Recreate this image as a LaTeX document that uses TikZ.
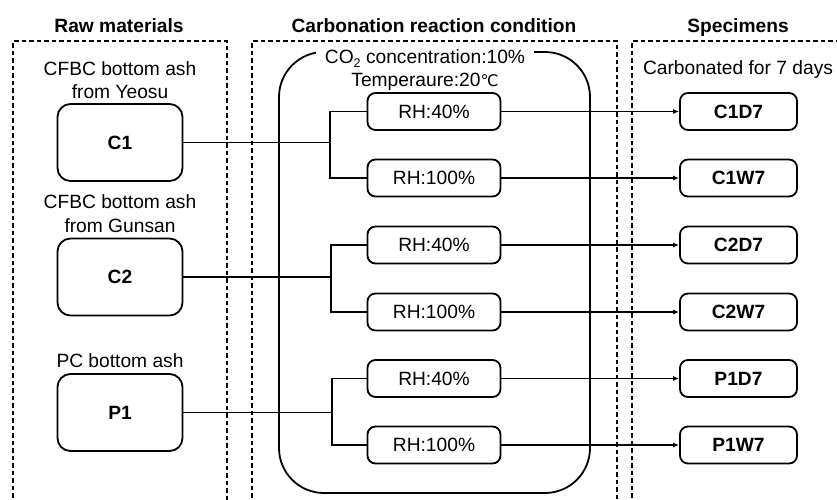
\documentclass[tikz,border=0pt]{standalone}
\usepackage{fontspec}
\setmainfont{Liberation Sans}
\newfontfamily\symfont{DejaVu Sans}
\usetikzlibrary{arrows.meta}
\begin{document}
\begin{tikzpicture}[x=1pt,y=-1pt,
  txt/.style={font=\fontsize{19.2}{22}\selectfont, inner sep=0pt, anchor=base},
  ttl/.style={font=\fontsize{19.2}{22}\selectfont\bfseries, inner sep=0pt, anchor=base},
  dbox/.style={draw, line width=1.5pt, dash pattern=on 4.5pt off 3pt},
  rawbox/.style={draw, line width=1.8pt, rounded corners=13pt, minimum width=125pt, minimum height=77pt, font=\fontsize{19.2}{22}\selectfont\bfseries},
  rhbox/.style={draw, line width=1.8pt, rounded corners=8pt, minimum width=133pt, minimum height=37pt, font=\fontsize{19.2}{22}\selectfont},
  spbox/.style={draw, line width=1.8pt, rounded corners=8pt, minimum width=117pt, minimum height=37pt, font=\fontsize{19.2}{22}\selectfont\bfseries},
  conn/.style={line width=1.4pt},
  arr/.style={line width=1.4pt, -{Latex[length=6pt,width=5pt]}}
]
\useasboundingbox (0,0) rectangle (837,499);
\clip (0,0) rectangle (837,499);
% titles
\node[ttl] (t1) at (119,32) {Raw materials};
\node[ttl] (t2) at (434,32) {Carbonation reaction condition};
\node[ttl] (t3) at (738,32) {Specimens};
% dashed boxes
\draw[dbox] (13,520) -- (13,41) -- (227,41) -- (227,520);
\draw[dbox] (252,520) -- (252,41) -- (617,41) -- (617,520);
\draw[dbox] (632,520) -- (632,41) -- (860,41);
% big rounded box
\draw[line width=1.8pt, rounded corners=45pt] (279,52) rectangle (590,493);
\node[txt, fill=white, inner xsep=9pt, inner ysep=4pt] (co2) at (425,63) {CO{\fontsize{12.5}{12}\selectfont\raisebox{-4pt}{2}} concentration:10\%};
\node[txt] (temp) at (425,86) {Temperaure:20{\symfont\fontsize{16}{18}\selectfont ℃}};
% raw material labels
\node[txt] (l1a) at (120,75) {CFBC bottom ash};
\node[txt] (l1b) at (120,98) {from Yeosu};
\node[txt] (l2a) at (120,208) {CFBC bottom ash};
\node[txt] (l2b) at (120,232) {from Gunsan};
\node[txt] (l3a) at (120,367) {PC bottom ash};
\node[txt] (l4) at (738,74) {Carbonated for 7 days};
% raw boxes
\node[rawbox] (C1) at (120,142.5) {C1};
\node[rawbox] (C2) at (120,277) {C2};
\node[rawbox] (P1) at (120,412.5) {P1};
% RH boxes
\node[rhbox] (R1) at (434,111.5) {RH:40\%};
\node[rhbox] (R2) at (434,178) {RH:100\%};
\node[rhbox] (R3) at (434,245) {RH:40\%};
\node[rhbox] (R4) at (434,312) {RH:100\%};
\node[rhbox] (R5) at (434,378.5) {RH:40\%};
\node[rhbox] (R6) at (434,445) {RH:100\%};
% specimen boxes
\node[spbox] (S1) at (738.5,111.5) {C1D7};
\node[spbox] (S2) at (738.5,178) {C1W7};
\node[spbox] (S3) at (738.5,245) {C2D7};
\node[spbox] (S4) at (738.5,312) {C2W7};
\node[spbox] (S5) at (738.5,378.5) {P1D7};
\node[spbox] (S6) at (738.5,445) {P1W7};
% branch points
\coordinate (b1) at (330,142.5);
\coordinate (b2) at (331,277);
\coordinate (b3) at (332,412.5);
\draw[conn] (C1.east) -- (b1);
\draw[conn] (b1) |- (R1.west);
\draw[conn] (b1) |- (R2.west);
\draw[conn] (C2.east) -- (b2);
\draw[conn] (b2) |- (R3.west);
\draw[conn] (b2) |- (R4.west);
\draw[conn] (P1.east) -- (b3);
\draw[conn] (b3) |- (R5.west);
\draw[conn] (b3) |- (R6.west);
% arrows
\draw[arr] (R1.east) -- (S1.west);
\draw[arr] (R2.east) -- (S2.west);
\draw[arr] (R3.east) -- (S3.west);
\draw[arr] (R4.east) -- (S4.west);
\draw[arr] (R5.east) -- (S5.west);
\draw[arr] (R6.east) -- (S6.west);
\end{tikzpicture}
\end{document}
